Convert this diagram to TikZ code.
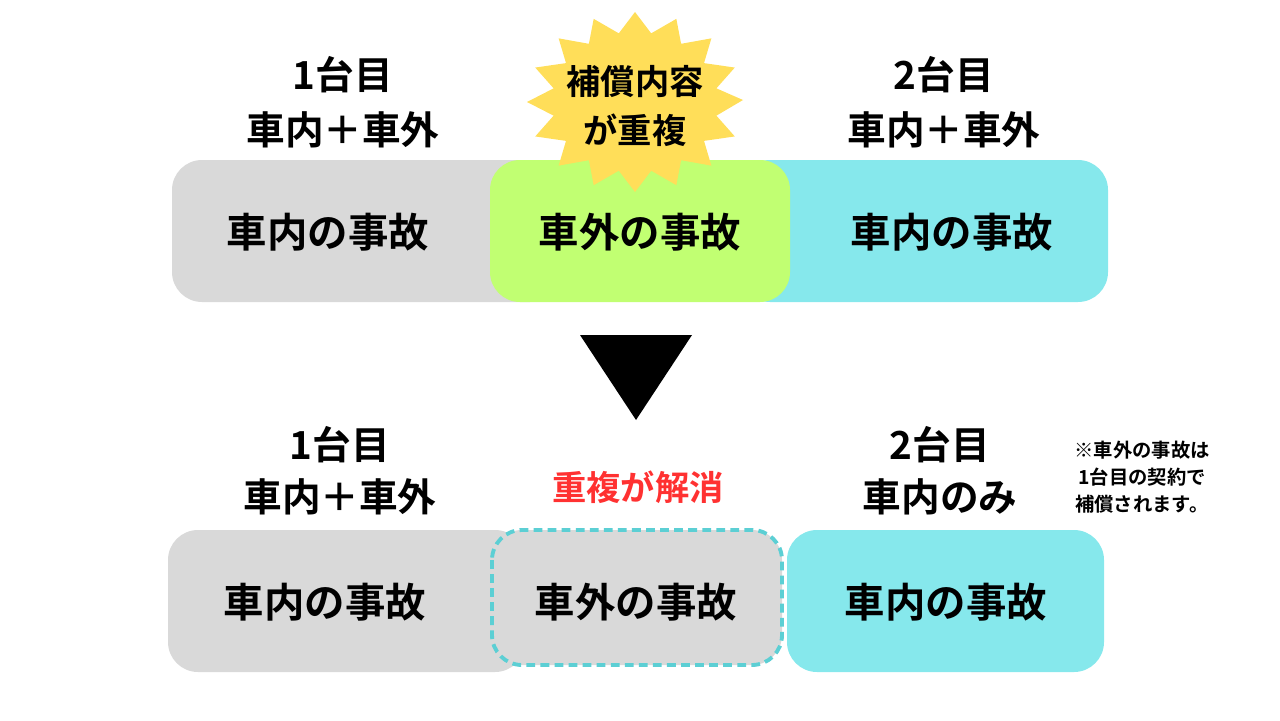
\documentclass[tikz,border=0pt]{standalone}
\usepackage{fontspec}
\setmainfont{Noto Sans CJK JP Bold}
\definecolor{cg}{HTML}{D9D9D9}
\definecolor{cgr}{HTML}{C1FF72}
\definecolor{ccy}{HTML}{86E8EC}
\definecolor{cdash}{HTML}{5CCFD4}
\definecolor{cred}{HTML}{FF3131}
\definecolor{cstar}{HTML}{FFDE59}
\begin{document}
\begin{tikzpicture}[x=0.02cm,y=-0.02cm,
  box/.style={rounded corners=0.6cm},
  lab/.style={font=\fontsize{22}{26}\selectfont,align=center},
  bt/.style={font=\fontsize{23}{26}\selectfont},
  note/.style={font=\fontsize{11}{15.5}\selectfont,align=center}]
\useasboundingbox (0,0) rectangle (1280,720);
% top
\fill[cg,box] (172,160) rectangle (560,302);
\fill[ccy,box] (740,160) rectangle (1108,302);
\fill[cgr,box] (490,160) rectangle (790,302);
\fill[cstar] ({635+108},100) \foreach \i in {1,...,31}{ -- ({635+(108-mod(\i,2)*25)*cos(\i*11.25)},{102+(90-mod(\i,2)*20)*sin(\i*11.25)}) } -- cycle;
\node[lab] (s1) at (635,82) {\fontsize{19.5}{22}\selectfont 補償内容};
\node[lab] (s2) at (635,130) {\fontsize{19.5}{22}\selectfont が重複};
\node[lab] (a1) at (343,75) {1台目};
\node[lab] (a2) at (343,130) {車内＋車外};
\node[lab] (b1) at (944,75) {2台目};
\node[lab] (b2) at (944,130) {車内＋車外};
\node[bt] (t1) at (328,232) {車内の事故};
\node[bt] (t2) at (640,232) {車外の事故};
\node[bt] (t3) at (952,232) {車内の事故};
% arrow
\fill (580,335) -- (692,335) -- (636,420) -- cycle;
% bottom
\fill[cg,box] (168,530) rectangle (525,672);
\fill[cg,box] (492,530) rectangle (782,665);
\draw[cdash,line width=2.2pt,dash pattern=on 5pt off 3pt,box] (492,530) rectangle (782,665);
\fill[ccy,box] (787,530) rectangle (1104,672);
\node[lab] (c1) at (340,445) {1台目};
\node[lab] (c2) at (340,497) {車内＋車外};
\node[lab,text=cred] (r) at (638,487) {\fontsize{19.5}{22}\selectfont 重複が解消};
\node[lab] (d1) at (940,445) {2台目};
\node[lab] (d2) at (940,497) {車内のみ};
\node[note] (n) at (1142,477) {※車外の事故は\\1台目の契約で\\補償されます。};
\node[bt] (u1) at (325,602) {車内の事故};
\node[bt] (u2) at (636,602) {車外の事故};
\node[bt] (u3) at (946,602) {車内の事故};
\end{tikzpicture}
\end{document}
